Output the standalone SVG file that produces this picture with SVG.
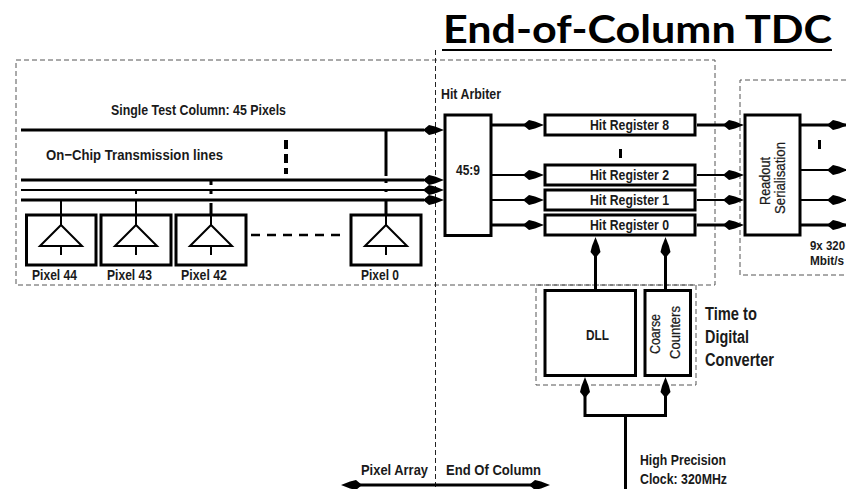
<svg xmlns="http://www.w3.org/2000/svg" width="846" height="489" viewBox="0 0 846 489">
<style>
text{font-family:"Liberation Sans",Arial,sans-serif;font-weight:bold;fill:#1a1a1a;font-size:15.500px}
.box{fill:#fff;stroke:#000;stroke-width:3}
.w{fill:none;stroke:#000;stroke-width:3}
.w2{fill:none;stroke:#000;stroke-width:2}
.dash{fill:none;stroke:#555;stroke-width:1;stroke-dasharray:5 3}
.vdash{fill:none;stroke:#222;stroke-width:1;stroke-dasharray:5 3}
.r{font-weight:normal;stroke:#1a1a1a;stroke-width:.25}
.big{font-size:17.500px}
.sm{font-size:13.500px}
</style>
<defs>
<path id="ah" d="M0 0L-9 -3.500L-15 -5L-21 0L-15 5L-9 3.500Z" fill="#000"/>
<path id="au" d="M0 0L-3.500 9L-5 15L0 21L5 15L3.500 9Z" fill="#000"/>
<path id="amp" d="M0 -16V-1M-21 20L0 -1L21 20ZM0 20V29" fill="none" stroke="#000" stroke-width="2"/>
</defs>
<rect width="846" height="489" fill="#fff"/>
<g id="title"><text x="443" y="43" textLength="389" lengthAdjust="spacingAndGlyphs" style="font-family:Lato,'Open Sans',sans-serif;font-size:39px;fill:#000">End-of-Column TDC</text><line x1="442" y1="50" x2="832" y2="50" stroke="#000" stroke-width="2"/></g>
<g id="regions">
<rect class="dash" x="16" y="60" width="699" height="225"/>
<path class="dash" d="M846 80H740V275H846"/>
<rect class="dash" x="536" y="285" width="160" height="100"/>
<line class="vdash" x1="435.500" y1="50" x2="435.500" y2="489"/>
</g>
<g id="connectors">
<path class="w" d="M21 130H424M21 180H424"/>
<path class="w2" d="M21 190H424"/>
<path class="w" d="M21 200H424"/>
<path class="w" d="M386 130V176"/>
<path d="M286 140V174" fill="none" stroke="#000" stroke-width="4" stroke-dasharray="9 5"/>
<path d="M211 181V216" fill="none" stroke="#000" stroke-width="3" stroke-dasharray="4 6 3 9 20"/>
<path d="M136 190V215" fill="none" stroke="#000" stroke-width="2" stroke-dasharray="4 6 20"/>
<path d="M386 180V216" fill="none" stroke="#000" stroke-width="3" stroke-dasharray="3 6 3 7 20"/>
<path class="w2" d="M61 200V216"/>
<path d="M251 235H340" fill="none" stroke="#000" stroke-width="2.500" stroke-dasharray="9 7"/>
<use href="#ah" x="444" y="130"/><use href="#ah" x="444" y="180"/><use href="#ah" x="444" y="190"/><use href="#ah" x="444" y="200"/>
<path class="w" d="M491 125H530M491 225H530M697 125H730M697 225H730M800 125H846M800 225H846"/>
<path class="w2" d="M491 175H530M491 200H530M697 175H730M697 200H730M800 170H846M800 200H846"/>
<use href="#ah" x="544" y="125"/><use href="#ah" x="544" y="175"/><use href="#ah" x="544" y="200"/><use href="#ah" x="544" y="225"/>
<use href="#ah" x="744" y="125"/><use href="#ah" x="744" y="175"/><use href="#ah" x="744" y="200"/><use href="#ah" x="744" y="225"/>
<use href="#ah" x="848" y="125"/><use href="#ah" x="848" y="170"/><use href="#ah" x="848" y="200"/><use href="#ah" x="848" y="225"/>
<path d="M620.500 149V158M819.500 140V149" fill="none" stroke="#000" stroke-width="3"/>
<path class="w" d="M595.500 250V290M665.500 250V290"/>
<use href="#au" x="595.500" y="237"/><use href="#au" x="665.500" y="237"/>
<path class="w" d="M585 390V415.500H665.500V390M625.500 415.500V489"/>
<use href="#au" x="585" y="377"/><use href="#au" x="665.500" y="377"/>
<path class="w" d="M350 485H540"/>
<path d="M341 485L350 481.500L356 480L362 485L356 490L350 488.500ZM550 485L541 481.500L535 480L529 485L535 490L541 488.500Z" fill="#000"/>
</g>
<g id="pixel44"><rect class="box" x="26.500" y="215" width="69.500" height="50"/><use href="#amp" x="61" y="226"/><text x="32" y="280" textLength="45" lengthAdjust="spacingAndGlyphs">Pixel 44</text></g>
<g id="pixel43"><rect class="box" x="101" y="215" width="70" height="50"/><use href="#amp" x="136" y="226"/><text x="107" y="280" textLength="45" lengthAdjust="spacingAndGlyphs">Pixel 43</text></g>
<g id="pixel42"><rect class="box" x="176" y="215" width="70" height="50"/><use href="#amp" x="211" y="226"/><text x="181" y="280" textLength="46" lengthAdjust="spacingAndGlyphs">Pixel 42</text></g>
<g id="pixel0"><rect class="box" x="351" y="215" width="70" height="50"/><use href="#amp" x="386" y="226"/><text x="361" y="280" textLength="38" lengthAdjust="spacingAndGlyphs">Pixel 0</text></g>
<g id="arbiter"><rect class="box" x="445" y="115" width="46" height="120.500"/><text x="456" y="175" textLength="24" lengthAdjust="spacingAndGlyphs">45:9</text></g>
<g id="hitreg8"><rect class="box" x="545" y="115" width="150" height="20"/><text x="590" y="130" textLength="79" lengthAdjust="spacingAndGlyphs">Hit Register 8</text></g>
<g id="hitreg2"><rect class="box" x="545" y="165" width="150" height="20"/><text x="590" y="180" textLength="79" lengthAdjust="spacingAndGlyphs">Hit Register 2</text></g>
<g id="hitreg1"><rect class="box" x="545" y="190" width="150" height="20"/><text x="590" y="205" textLength="79" lengthAdjust="spacingAndGlyphs">Hit Register 1</text></g>
<g id="hitreg0"><rect class="box" x="545" y="215" width="150" height="20"/><text x="590" y="230" textLength="79" lengthAdjust="spacingAndGlyphs">Hit Register 0</text></g>
<g id="serial"><rect class="box" x="745" y="115" width="55" height="120"/><text class="r" transform="translate(770,205) rotate(-90)" textLength="48" lengthAdjust="spacingAndGlyphs">Readout</text><text class="r" transform="translate(785,214) rotate(-90)" textLength="72" lengthAdjust="spacingAndGlyphs">Serialisation</text></g>
<g id="dll"><rect class="box" x="545" y="290.500" width="90.500" height="85"/><text x="586" y="340" textLength="23" lengthAdjust="spacingAndGlyphs">DLL</text></g>
<g id="coarse"><rect class="box" x="645" y="290.500" width="45.500" height="85"/><text class="r" transform="translate(660,354) rotate(-90)" textLength="40" lengthAdjust="spacingAndGlyphs">Coarse</text><text class="r" transform="translate(680,359) rotate(-90)" textLength="53" lengthAdjust="spacingAndGlyphs">Counters</text></g>
<g id="labels">
<text x="111" y="115" textLength="175" lengthAdjust="spacingAndGlyphs">Single Test Column: 45 Pixels</text>
<text x="46" y="160" textLength="177" lengthAdjust="spacingAndGlyphs">On−Chip Transmission lines</text>
<text x="441" y="99" textLength="60" lengthAdjust="spacingAndGlyphs">Hit Arbiter</text>
<text class="sm" x="810" y="250" textLength="35" lengthAdjust="spacingAndGlyphs">9x 320</text>
<text class="sm" x="810" y="265" textLength="34" lengthAdjust="spacingAndGlyphs">Mbit/s</text>
<text class="big" x="705" y="320" textLength="52" lengthAdjust="spacingAndGlyphs">Time to</text>
<text class="big" x="705" y="343" textLength="44" lengthAdjust="spacingAndGlyphs">Digital</text>
<text class="big" x="705" y="366" textLength="69" lengthAdjust="spacingAndGlyphs">Converter</text>
<text x="640" y="465" textLength="86" lengthAdjust="spacingAndGlyphs">High Precision</text>
<text x="640" y="484" textLength="87" lengthAdjust="spacingAndGlyphs">Clock: 320MHz</text>
<text x="361" y="475" textLength="67" lengthAdjust="spacingAndGlyphs">Pixel Array</text>
<text x="446" y="475" textLength="95" lengthAdjust="spacingAndGlyphs">End Of Column</text>
</g>
</svg>
